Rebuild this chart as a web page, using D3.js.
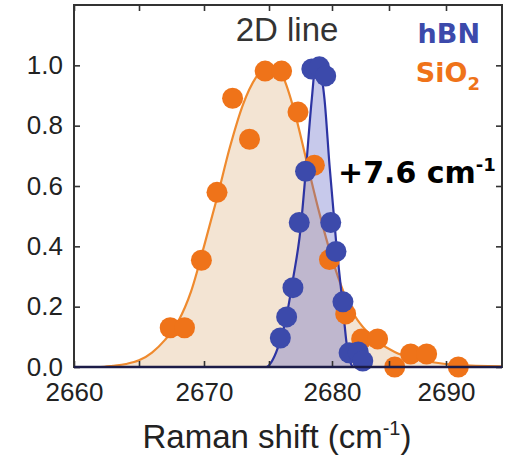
<!DOCTYPE html>
<html>
<head>
<meta charset="utf-8">
<script src="https://d3js.org/d3.v7.min.js"></script>
<style>
  body { margin: 0; background: #fff; }
  svg { display: block; }
</style>
</head>
<body>
<div id="chart"></div>
<script>
// data
var sio2Shift = [2667.4, 2668.5, 2669.8, 2671.0, 2672.2, 2673.5, 2674.7, 2676.0, 2677.3, 2678.6,
                 2679.8, 2681.2, 2682.6, 2684.0, 2685.5, 2686.9, 2688.3, 2691.1];
var sio2Int   = [0.13, 0.13, 0.354, 0.579, 0.891, 0.755, 0.981, 0.981, 0.845, 0.669,
                 0.356, 0.176, 0.093, 0.093, 0.0, 0.043, 0.043, 0.0];

var hbnShift = [2675.9, 2676.4, 2676.9, 2677.4, 2677.9, 2678.4, 2679.0, 2679.5, 2679.9, 2680.35,
                2680.96, 2681.5, 2682.3, 2682.7];
var hbnInt   = [0.096, 0.166, 0.263, 0.479, 0.649, 0.988, 0.995, 0.965, 0.479, 0.383,
                0.216, 0.047, 0.05, 0.02];

// fitted curves
var sio2FitX = [2660, 2662, 2663, 2664, 2665, 2666, 2667, 2668, 2669, 2670, 2671, 2672, 2673, 2674, 2675,
                2676, 2677, 2678, 2679, 2680, 2681, 2682, 2683, 2684, 2685.5, 2687, 2689, 2691, 2695];
var sio2FitY = [0, 0, 0.004, 0.01, 0.022, 0.048, 0.09, 0.15, 0.25, 0.4, 0.56, 0.73, 0.87, 0.96, 1.0,
                0.97, 0.85, 0.68, 0.51, 0.36, 0.25, 0.17, 0.12, 0.085, 0.05, 0.03, 0.015, 0.007, 0.002];

var hbnFitX = [2660, 2674.8, 2675.2, 2675.7, 2676.3, 2676.9, 2677.5, 2677.9, 2678.4, 2678.7,
               2679.0, 2679.4, 2679.8, 2680.35, 2680.9, 2681.3, 2681.6, 2681.9, 2695];
var hbnFitY = [0, 0, 0.017, 0.063, 0.15, 0.29, 0.456, 0.64, 0.89, 1.0,
               0.99, 0.89, 0.67, 0.42, 0.22, 0.073, 0.017, 0, 0];

var xMajor = [2660, 2670, 2680, 2690];
var xMinor = [2665, 2675, 2685];
var yTicks = [0, 0.2, 0.4, 0.6, 0.8, 1.0];

var orange = "#ef7319", orangeLine = "#ef8a2e", beige = "#f3e4d3";
var blue = "#3c4aab", blueLine = "#2d34a3", blueFill = "#5a62c4";

var W = 510, H = 458;
var box = {left: 74, right: 502, top: 5, bottom: 367};

var svg = d3.select("#chart")
  .append("svg")
    .attr("width", W)
    .attr("height", H);

// the original axis is not quite evenly spaced, so use a piecewise scale
var x = d3.scaleLinear()
  .domain([2660, 2675, 2680, 2690, 2695])
  .range([74, 269, 332, 446, 502]);

var y = d3.scaleLinear()
  .domain([0, 1.2])
  .range([box.bottom, box.top]);

var plot = svg.append("g");

var sio2Fit = d3.zip(sio2FitX, sio2FitY);
var hbnFit = d3.zip(hbnFitX, hbnFitY);

var area = d3.area()
  .x(function(d) { return x(d[0]); })
  .y0(y(0))
  .y1(function(d) { return y(d[1]); })
  .curve(d3.curveMonotoneX);

var line = d3.line()
  .x(function(d) { return x(d[0]); })
  .y(function(d) { return y(d[1]); })
  .curve(d3.curveMonotoneX);

// SiO2 fit
plot.append("path").datum(sio2Fit)
  .attr("d", area)
  .attr("fill", beige);
plot.append("path").datum(sio2Fit)
  .attr("d", line)
  .attr("fill", "none")
  .attr("stroke", orangeLine)
  .attr("stroke-width", 2.2);

// hBN fit
plot.append("path").datum(hbnFit)
  .attr("d", area)
  .attr("fill", blueFill)
  .attr("fill-opacity", 0.34);
plot.append("path").datum(hbnFit)
  .attr("d", line)
  .attr("fill", "none")
  .attr("stroke", blueLine)
  .attr("stroke-width", 2.2);

// dots
plot.append("g")
  .selectAll("circle")
  .data(d3.zip(sio2Shift, sio2Int))
  .enter()
  .append("circle")
    .attr("cx", function(d) { return x(d[0]); })
    .attr("cy", function(d) { return y(d[1]); })
    .attr("r", 10.5)
    .style("fill", orange);

plot.append("g")
  .selectAll("circle")
  .data(d3.zip(hbnShift, hbnInt))
  .enter()
  .append("circle")
    .attr("cx", function(d) { return x(d[0]); })
    .attr("cy", function(d) { return y(d[1]); })
    .attr("r", 10.5)
    .style("fill", blue);

// frame with inward ticks on all four sides
var tickFont = "'Liberation Sans', Arial, sans-serif";

function styleAxis(g) {
  g.select(".domain").remove();
  g.selectAll(".tick line").attr("stroke", "#333").attr("stroke-width", 1.6);
  g.selectAll(".tick text")
    .attr("fill", "#222")
    .style("font-family", tickFont)
    .style("font-size", "26px");
}

svg.append("g")
  .attr("transform", "translate(0," + box.bottom + ")")
  .call(d3.axisBottom(x).tickValues(xMajor.concat(xMinor)).tickSize(-6).tickPadding(16)
        .tickFormat(function(d) { return xMajor.indexOf(d) >= 0 ? d : ""; }))
  .call(styleAxis);

svg.append("g")
  .attr("transform", "translate(0," + box.top + ")")
  .call(d3.axisTop(x).tickValues(xMajor.concat(xMinor)).tickSize(-6).tickFormat(""))
  .call(styleAxis);

svg.append("g")
  .attr("transform", "translate(" + box.left + ",0)")
  .call(d3.axisLeft(y).tickValues(yTicks).tickSize(-6).tickPadding(11).tickFormat(d3.format(".1f")))
  .call(styleAxis);

svg.append("g")
  .attr("transform", "translate(" + box.right + ",0)")
  .call(d3.axisRight(y).tickValues(yTicks).tickSize(-6).tickFormat(""))
  .call(styleAxis);

svg.append("rect")
  .attr("x", box.left)
  .attr("y", box.top)
  .attr("width", box.right - box.left)
  .attr("height", box.bottom - box.top)
  .attr("fill", "none")
  .attr("stroke", "#333")
  .attr("stroke-width", 2);

svg.append("line")
  .attr("x1", box.left).attr("x2", box.right)
  .attr("y1", box.bottom).attr("y2", box.bottom)
  .attr("stroke", "#1c1c48")
  .attr("stroke-width", 2.4);

// x axis label
var xlab = svg.append("text")
  .attr("x", 277)
  .attr("y", 448)
  .attr("text-anchor", "middle")
  .attr("fill", "#222")
  .style("font-family", tickFont)
  .style("font-size", "33px");
xlab.append("tspan").text("Raman shift (cm");
xlab.append("tspan").attr("dy", -13).style("font-size", "20px").text("-1");
xlab.append("tspan").attr("dy", 13).text(")");

// annotations
svg.append("text")
  .attr("x", 287)
  .attr("y", 41)
  .attr("text-anchor", "middle")
  .attr("fill", "#333")
  .style("font-family", tickFont)
  .style("font-size", "33px")
  .text("2D line");

var boldFont = "'DejaVu Sans', sans-serif";

svg.append("text")
  .attr("x", 480)
  .attr("y", 43)
  .attr("text-anchor", "end")
  .attr("fill", blue)
  .style("font-family", boldFont)
  .style("font-weight", "bold")
  .style("font-size", "27px")
  .text("hBN");

var sio2Lab = svg.append("text")
  .attr("x", 480)
  .attr("y", 82)
  .attr("text-anchor", "end")
  .attr("fill", orange)
  .style("font-family", boldFont)
  .style("font-weight", "bold")
  .style("font-size", "27px");
sio2Lab.append("tspan").text("SiO");
sio2Lab.append("tspan").attr("dy", 8).style("font-size", "18px").text("2");

var shiftLab = svg.append("text")
  .attr("x", 338)
  .attr("y", 183)
  .attr("fill", "#000")
  .style("font-family", boldFont)
  .style("font-weight", "bold")
  .style("font-size", "30px");
shiftLab.append("tspan").text("+7.6 cm");
shiftLab.append("tspan").attr("dy", -12).style("font-size", "18px").text("-1");
</script>
</body>
</html>
